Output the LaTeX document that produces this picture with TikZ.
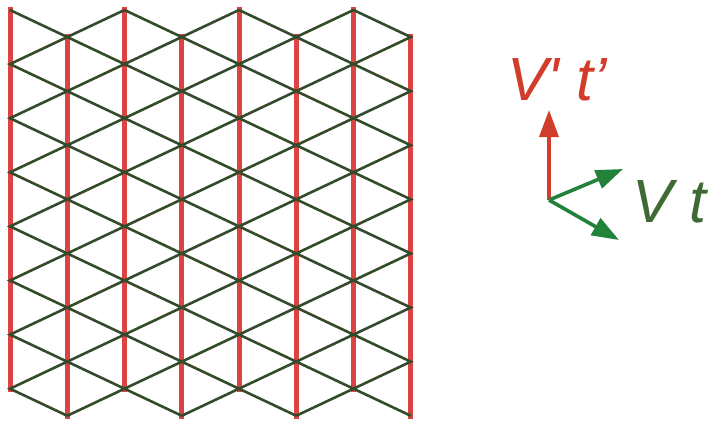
\documentclass[tikz,border=0pt]{standalone}
\usepackage{fontspec}
\newfontfamily\labfont{Liberation Sans}
\usetikzlibrary{arrows.meta}

\definecolor{rodred}{HTML}{DC4444}
\definecolor{edgegreen}{HTML}{344B2B}
\definecolor{vecred}{HTML}{D23C2A}
\definecolor{vecgreen}{HTML}{23823A}
\definecolor{labgreen}{HTML}{3F6A33}

\begin{document}
\begin{tikzpicture}[x=1pt, y=-1pt, >={Triangle[length=27pt,width=19pt]},
    rod/.style={rodred, line width=5pt},
    edge/.style={edgegreen, line width=2.6pt, line join=miter},
    vec/.style={->, line width=3.6pt},
    lab/.style={font=\labfont\fontsize{61}{61}\selectfont\itshape, inner sep=0pt, anchor=base west}]
  \useasboundingbox (0,0) rectangle (713,421);
  % Vertical rods
  \foreach \i in {0,...,7}
    \draw[rod] ({10+57.25*\i},{7+27*mod(\i,2)}) -- ++(0,385);
  % Zigzag bonds between neighbouring rods
  \foreach \i in {0,...,6}
    \draw[edge] ({10+57.25*(\i+mod(\i,2))},10)
      \foreach \k in {1,...,15} { -- ({10+57.25*(\i+mod(\k+\i,2))},{10+27.05*\k}) };
  % Vectors
  \coordinate (o) at (549,200);
  \coordinate (up) at (549,110);
  \coordinate (g1) at (623,169);
  \coordinate (g2) at (619,240);
  \draw[vec, vecred] (o) -- (up);
  \draw[vec, vecgreen] (o) -- (g1);
  \draw[vec, vecgreen] (o) -- (g2);
  % Labels
  \node[lab, text=vecred] (vtp) at (507,100) {V' t’};
  \node[lab, text=labgreen] (vt) at (632,222) {V t};
\end{tikzpicture}
\end{document}
